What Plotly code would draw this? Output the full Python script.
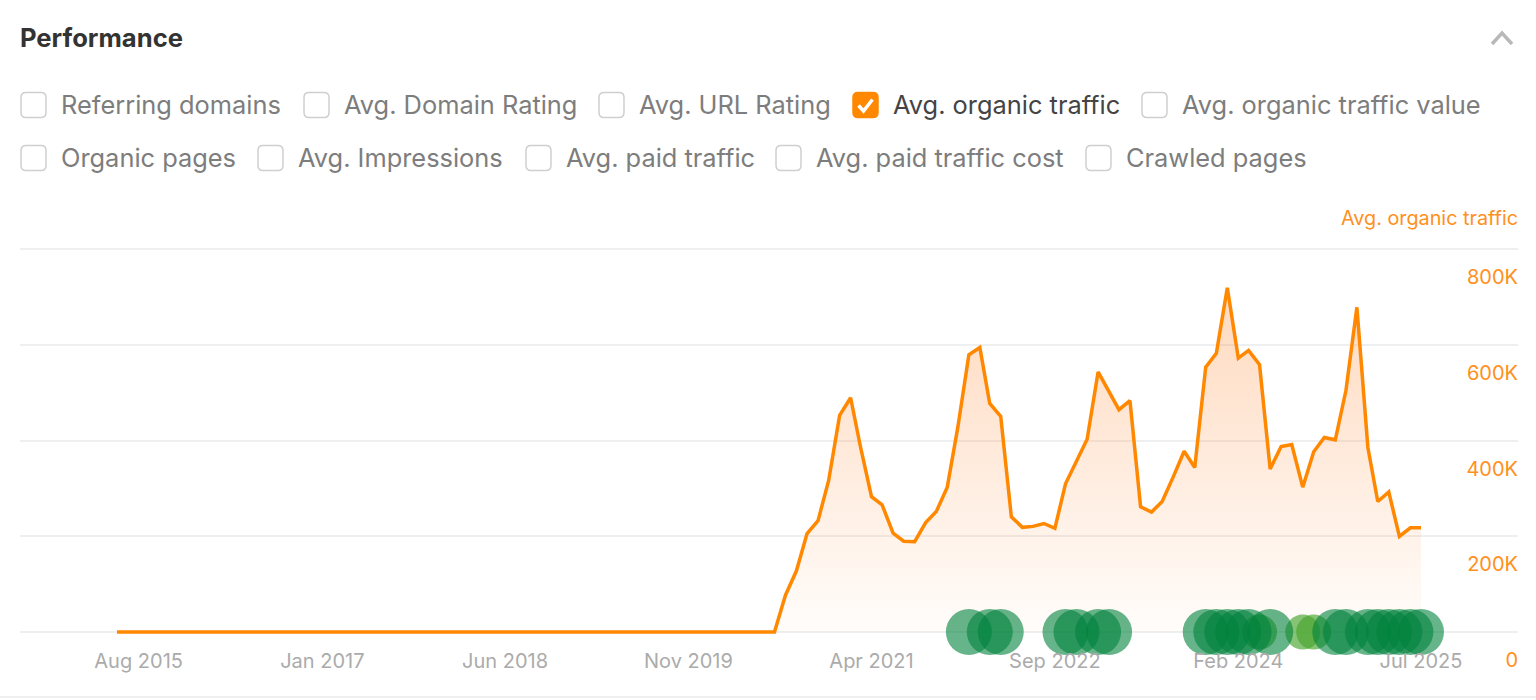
import pandas as pd
import plotly.graph_objects as go

W = 1536
H = 700
ORANGE = "#ff8800"
ORANGE_TEXT = "#ff9020"

# monthly points, Jun 2015 to Jul 2025
months = pd.date_range("2015-06-01", "2025-07-01", freq="MS")
flat_traffic = [0, 0, 0, 0, 0, 0, 0, 0, 0, 0, 0, 0, 0, 0, 0, 0, 0, 0, 0, 0, 0, 0, 0, 0, 0, 0, 0, 0, 0, 0, 0,
                0, 0, 0, 0, 0, 0, 0, 0, 0, 0, 0, 0, 0, 0, 0, 0, 0, 0, 0, 0, 0, 0, 0, 0, 0, 0, 0, 0, 0, 0, 0]
rising_traffic = [77, 128, 206, 233, 317, 453, 490, 387, 283, 266, 207, 190, 189, 229, 252, 303, 429, 580, 595, 478,
                  451, 241, 219, 221, 227, 217, 310, 359, 403, 544, 504, 465, 484, 262, 251, 273, 324, 378, 344, 554,
                  583, 720, 573, 589, 559, 341, 388, 392, 303, 377, 407, 402, 505, 679, 386, 273, 293, 200, 218, 218]
traffic = [v * 1000 for v in flat_traffic + rising_traffic]

# update markers along the bottom
dark_dates = ["2022-01-01", "2022-03-01", "2022-04-01", "2022-10-01", "2022-11-01", "2023-01-01", "2023-02-01",
              "2023-11-01", "2023-12-01", "2024-01-01", "2024-02-01", "2024-03-01", "2024-05-01", "2024-11-01",
              "2024-12-01", "2025-02-01", "2025-03-01", "2025-04-01", "2025-05-01", "2025-06-01", "2025-07-01"]
light_dates = ["2024-04-01", "2024-08-01", "2024-09-01"]

x_tick_dates = ["2015-08-01", "2017-01-01", "2018-06-01", "2019-11-01", "2021-04-01", "2022-09-01", "2024-02-01", "2025-07-01"]
x_tick_labels = ["Aug 2015", "Jan 2017", "Jun 2018", "Nov 2019", "Apr 2021", "Sep 2022", "Feb 2024", "Jul 2025"]
y_tick_vals = [0, 200000, 400000, 600000, 800000]
y_tick_labels = ["0", "200K", "400K", "600K", "800K"]

row1_labels = ["Referring domains", "Avg. Domain Rating", "Avg. URL Rating", "Avg. organic traffic", "Avg. organic traffic value"]
row2_labels = ["Organic pages", "Avg. Impressions", "Avg. paid traffic", "Avg. paid traffic cost", "Crawled pages"]
row1_boxes = [21, 304, 599, 853, 1142]
row2_boxes = [21, 258, 526, 776, 1086]


def px(x):
    return x / W


def py(y):
    return 1 - y / H


def text(x, y, s, size, color, anchor="left", weight=400):
    return dict(x=px(x), y=py(y), xref="paper", yref="paper", text=s, showarrow=False, xanchor=anchor, yanchor="middle",
                font=dict(family="Inter", size=size, color=color, weight=weight))


def box_path(x, y, s=25, r=5):
    pts = [(x + r, y), (x + s - r, y), (x + s, y, x + s, y + r), (x + s, y + s - r), (x + s, y + s, x + s - r, y + s),
           (x + r, y + s), (x, y + s, x, y + s - r), (x, y + r), (x, y, x + r, y)]
    d = ""
    for i, p in enumerate(pts):
        if len(p) == 2:
            d += ("M" if i == 0 else "L") + f"{px(p[0])},{py(p[1])} "
        else:
            d += f"Q{px(p[0])},{py(p[1])} {px(p[2])},{py(p[3])} "
    return d + "Z"


fig = go.Figure()

fig.add_trace(go.Scatter(x=months, y=traffic, mode="lines", cliponaxis=False, showlegend=False,
                         line=dict(color=ORANGE, width=3.5),
                         fill="tozeroy",
                         fillgradient=dict(type="vertical", colorscale=[[0, "rgba(255,130,40,0.02)"], [1, "rgba(255,130,40,0.3)"]])))
fig.add_trace(go.Scatter(x=light_dates, y=[0] * len(light_dates), mode="markers", cliponaxis=False, showlegend=False,
                         marker=dict(size=35, color="rgba(70,165,45,0.65)", line=dict(width=0))))
fig.add_trace(go.Scatter(x=dark_dates, y=[0] * len(dark_dates), mode="markers", cliponaxis=False, showlegend=False,
                         marker=dict(size=46, color="rgba(0,130,60,0.6)", line=dict(width=0))))

annotations = [text(18, 38, "Performance", 25.6, "#333333", weight=700),
               text(1520, 218, "Avg. organic traffic", 19.8, ORANGE_TEXT, anchor="right")]
shapes = []
for labels, boxes, y in [(row1_labels, row1_boxes, 105), (row2_labels, row2_boxes, 158)]:
    for label, bx in zip(labels, boxes):
        checked = label == "Avg. organic traffic"
        shapes.append(dict(type="path", xref="paper", yref="paper", path=box_path(bx, y - 12.5),
                           fillcolor=ORANGE if checked else "white",
                           line=dict(color=ORANGE if checked else "#cfcfcf", width=1.5)))
        annotations.append(text(bx + 38, y - 1, label, 25.4, "#444444" if checked else "#7d7d7d"))

# tick mark in the selected box, chevron, bottom rule
shapes.append(dict(type="path", xref="paper", yref="paper",
                   path=f"M{px(858.5)},{py(105.5)} L{px(863.5)},{py(111)} L{px(872.5)},{py(99.5)}",
                   line=dict(color="white", width=3.5)))
shapes.append(dict(type="path", xref="paper", yref="paper",
                   path=f"M{px(1492)},{py(44)} L{px(1502)},{py(33)} L{px(1512)},{py(44)}",
                   line=dict(color="#b8b8b8", width=3.5)))
shapes.append(dict(type="line", xref="paper", yref="paper", x0=0, x1=1, y0=py(697), y1=py(697),
                   line=dict(color="#eeeff1", width=2)))

fig.update_layout(
    width=W, height=H, margin=dict(l=0, r=0, t=0, b=0),
    paper_bgcolor="white", plot_bgcolor="white", showlegend=False,
    shapes=shapes, annotations=annotations,
    xaxis=dict(type="date", domain=[px(20), px(1518)], range=["2014-08-31", "2026-04-01"], showgrid=False, zeroline=False,
               showline=False, tickmode="array", tickvals=x_tick_dates, ticktext=x_tick_labels, ticks="",
               anchor="free", position=py(642), ticklabelstandoff=5,
               tickfont=dict(family="Inter", size=20, color="#ababab")),
    # axis runs past 0 and 800K so both end gridlines and the shifted 0 label get drawn
    yaxis=dict(domain=[py(680), py(239.5)], range=[-100261, 820888], side="right", showgrid=True, gridcolor="#eeeff1", gridwidth=2,
               zeroline=False, showline=False, ticks="",
               tickmode="array", tickvals=y_tick_vals, ticktext=y_tick_labels,
               ticklabelposition="inside", ticklabelshift=28, ticklabelstandoff=-3,
               tickfont=dict(family="Inter", size=20, color=ORANGE_TEXT)),
)

fig.write_html("out.html", config=dict(displayModeBar=False), post_script="document.body.style.margin='0';")
